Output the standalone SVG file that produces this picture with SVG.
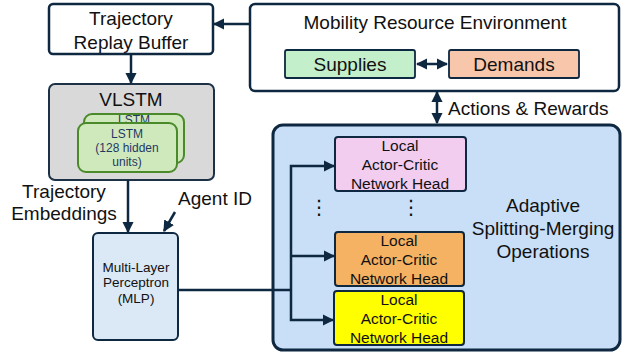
<svg xmlns="http://www.w3.org/2000/svg" width="623" height="358" viewBox="0 0 623 358">
<style>
text{font-family:"Liberation Sans",Arial,sans-serif;fill:#111;text-anchor:middle}
.b{stroke:#0e2841;stroke-width:2.5}
.c{fill:none;stroke:#0e2841;stroke-width:2.5}
.h{font-size:15.5px}
.big{font-size:19px}
.l{font-size:12px;fill:#1f3864}
</style>
<defs>
<marker id="a" viewBox="0 0 10 10" refX="9" refY="5" markerWidth="4.5" markerHeight="4.5" orient="auto-start-reverse" markerUnits="strokeWidth"><path d="M0,0L10,5L0,10z" fill="#0e2841"/></marker>
</defs>
<rect width="623" height="358" fill="#fff"/>
<g id="adaptive">
<rect x="273" y="125" width="347" height="225" rx="10" fill="#c9def7" stroke="#0e2841" stroke-width="3"/>
<text class="big" x="543" y="212">Adaptive</text>
<text class="big" x="543" y="235">Splitting-Merging</text>
<text class="big" x="543" y="258">Operations</text>
<text x="319" y="214" font-family="DejaVu Sans" style="font-family:'DejaVu Sans',sans-serif;font-size:20px">⋮</text>
<text x="411" y="214" style="font-family:'DejaVu Sans',sans-serif;font-size:20px">⋮</text>
</g>
<g id="buffer">
<rect x="49" y="4" width="164" height="50" rx="4" fill="#fff" class="b"/>
<text class="big" x="131" y="25">Trajectory</text>
<text class="big" x="131" y="49">Replay Buffer</text>
</g>
<g id="env">
<rect x="250" y="4" width="369" height="87" rx="5" fill="#fff" class="b"/>
<text class="big" x="435" y="29">Mobility Resource Environment</text>
</g>
<g id="supplies">
<rect x="285" y="50" width="130" height="28" rx="2" fill="#c3efca" stroke="#0e2841" stroke-width="1.8"/>
<text class="big" x="350" y="71">Supplies</text>
</g>
<g id="demands">
<rect x="449" y="50" width="130" height="28" rx="2" fill="#f8c7ab" stroke="#0e2841" stroke-width="1.8"/>
<text class="big" x="514" y="71">Demands</text>
</g>
<g id="vlstm">
<rect x="49" y="84" width="165" height="96" rx="6" fill="#d9d9d9" stroke="#1c3046" stroke-width="2"/>
<text class="big" x="131" y="106">VLSTM</text>
<rect x="84" y="114" width="100" height="49" rx="8" fill="#cfe9bd" stroke="#4a8a2a" stroke-width="2"/>
<text class="l" x="134" y="124">LSTM</text>
<rect x="78" y="123" width="99" height="49" rx="8" fill="#cfe9bd" stroke="#4a8a2a" stroke-width="2"/>
<text class="l" x="127" y="138">LSTM</text>
<text class="l" x="127" y="152">(128 hidden</text>
<text class="l" x="127" y="166">units)</text>
</g>
<g id="mlp">
<rect x="93" y="233" width="85" height="107" rx="5" fill="#dbe8f6" stroke="#0e2841" stroke-width="2"/>
<text x="136" y="272" style="font-size:13.5px">Multi-Layer</text>
<text x="136" y="287" style="font-size:13.5px">Perceptron</text>
<text x="136" y="303" style="font-size:13.5px">(MLP)</text>
</g>
<g id="head1">
<rect x="335" y="137" width="131" height="54" rx="3" fill="#f2cdef" stroke="#0e2841" stroke-width="2"/>
<text class="h" x="400" y="151">Local</text>
<text class="h" x="400" y="170">Actor-Critic</text>
<text class="h" x="400" y="189">Network Head</text>
</g>
<g id="head2">
<rect x="335" y="232" width="129" height="54" rx="3" fill="#f5b263" stroke="#0e2841" stroke-width="2"/>
<text class="h" x="399" y="246">Local</text>
<text class="h" x="399" y="265">Actor-Critic</text>
<text class="h" x="399" y="284">Network Head</text>
</g>
<g id="head3">
<rect x="334" y="291" width="130" height="54" rx="3" fill="#ffff00" stroke="#0e2841" stroke-width="2"/>
<text class="h" x="399" y="305">Local</text>
<text class="h" x="399" y="324">Actor-Critic</text>
<text class="h" x="399" y="343">Network Head</text>
</g>
<g id="labels">
<text class="big" x="448" y="115" style="text-anchor:start">Actions &amp; Rewards</text>
<text class="big" x="64" y="198">Trajectory</text>
<text class="big" x="64" y="220">Embeddings</text>
<text class="big" x="215" y="205">Agent ID</text>
</g>
<g id="connectors">
<line class="c" x1="250" y1="24" x2="214" y2="24" marker-end="url(#a)"/>
<line class="c" x1="131" y1="54" x2="131" y2="83" marker-end="url(#a)"/>
<line class="c" x1="417" y1="64" x2="447" y2="64" marker-start="url(#a)" marker-end="url(#a)"/>
<line class="c" x1="437" y1="92" x2="437" y2="123" marker-start="url(#a)" marker-end="url(#a)"/>
<line class="c" x1="128" y1="180" x2="128" y2="232" marker-end="url(#a)"/>
<line class="c" x1="175" y1="212" x2="164" y2="231" marker-end="url(#a)"/>
<line class="c" x1="178" y1="290" x2="291" y2="290"/>
<polyline class="c" points="334,166 291,166 291,320 333,320" marker-start="url(#a)" marker-end="url(#a)"/>
<line class="c" x1="291" y1="256" x2="334" y2="256" marker-end="url(#a)"/>
</g>
</svg>
